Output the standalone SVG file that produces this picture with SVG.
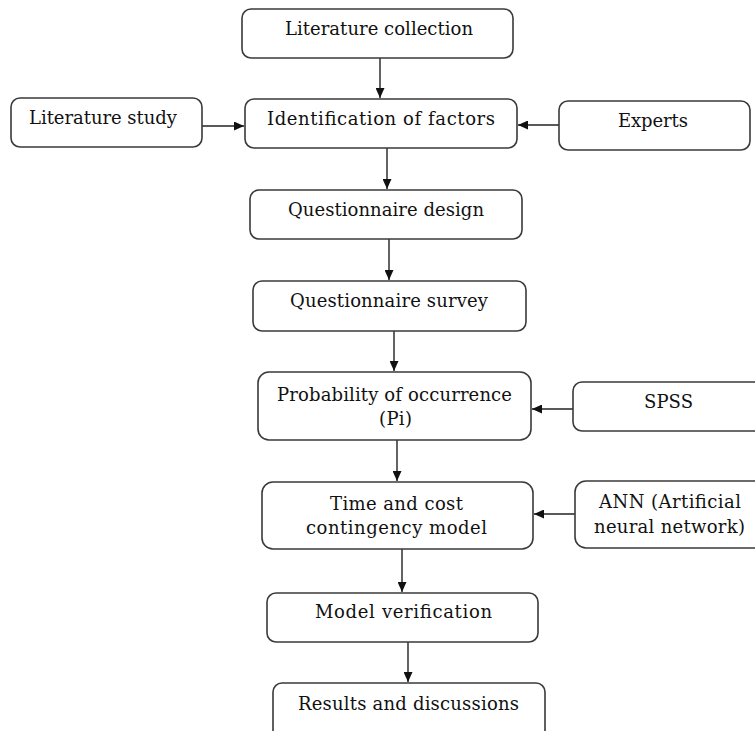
<svg xmlns="http://www.w3.org/2000/svg" width="755" height="731" viewBox="0 0 755 731">
<style>
.box{fill:#fff;stroke:#3a3a3a;stroke-width:1.6}
.t{font-family:"DejaVu Serif","Liberation Serif",serif;font-size:18px;fill:#111;text-anchor:middle}
.c{stroke:#222;stroke-width:1.4;fill:none;marker-end:url(#ah)}
</style>
<defs>
<marker id="ah" markerUnits="userSpaceOnUse" markerWidth="10" markerHeight="9" refX="10" refY="4.5" orient="auto">
<path d="M0,0 L10,4.5 L0,9 z" fill="#111"/>
</marker>
</defs>
<rect width="755" height="731" fill="#fff"/>
<g id="connectors">
<line class="c" x1="380" y1="58" x2="380" y2="98"/>
<line class="c" x1="202" y1="126" x2="244" y2="126"/>
<line class="c" x1="559" y1="125" x2="518" y2="125"/>
<line class="c" x1="387" y1="148" x2="387" y2="189"/>
<line class="c" x1="389" y1="239" x2="389" y2="280"/>
<line class="c" x1="394" y1="331" x2="394" y2="371"/>
<line class="c" x1="573" y1="409" x2="532" y2="409"/>
<line class="c" x1="397" y1="440" x2="397" y2="481"/>
<line class="c" x1="575" y1="514" x2="534" y2="514"/>
<line class="c" x1="402" y1="549" x2="402" y2="592"/>
<line class="c" x1="408" y1="642" x2="408" y2="682"/>
</g>
<g id="n-lit-collection">
<rect class="box" x="242" y="9" width="271" height="49" rx="9"/>
<text class="t" x="379" y="35" textLength="188">Literature collection</text>
</g>
<g id="n-lit-study">
<rect class="box" x="11" y="98" width="191" height="49" rx="9"/>
<text class="t" x="103" y="124" textLength="148">Literature study</text>
</g>
<g id="n-identification">
<rect class="box" x="245" y="99" width="272" height="49" rx="9"/>
<text class="t" x="381" y="125" textLength="228">Identification of factors</text>
</g>
<g id="n-experts">
<rect class="box" x="559" y="101" width="191" height="49" rx="9"/>
<text class="t" x="653" y="127" textLength="70">Experts</text>
</g>
<g id="n-q-design">
<rect class="box" x="250" y="190" width="272" height="49" rx="9"/>
<text class="t" x="386" y="216" textLength="196">Questionnaire design</text>
</g>
<g id="n-q-survey">
<rect class="box" x="253" y="281" width="273" height="50" rx="9"/>
<text class="t" x="389" y="307" textLength="198">Questionnaire survey</text>
</g>
<g id="n-probability">
<rect class="box" x="258" y="372" width="273" height="68" rx="11"/>
<text class="t" x="394.5" y="401" textLength="235">Probability of occurrence</text>
<text class="t" x="395.5" y="425" textLength="33">(Pi)</text>
</g>
<g id="n-spss">
<rect class="box" x="573" y="382" width="195" height="49" rx="9"/>
<text class="t" x="668.5" y="408" textLength="49">SPSS</text>
</g>
<g id="n-time-cost">
<rect class="box" x="262" y="482" width="271" height="67" rx="11"/>
<text class="t" x="396.5" y="510" textLength="133">Time and cost</text>
<text class="t" x="396.5" y="534" textLength="181">contingency model</text>
</g>
<g id="n-ann">
<rect class="box" x="575" y="481" width="195" height="67" rx="11"/>
<text class="t" x="670" y="508" textLength="142">ANN (Artificial</text>
<text class="t" x="669.5" y="533" textLength="151">neural network)</text>
</g>
<g id="n-model-verification">
<rect class="box" x="267" y="593" width="271" height="49" rx="9"/>
<text class="t" x="403.5" y="618" textLength="177">Model verification</text>
</g>
<g id="n-results">
<rect class="box" x="273" y="683" width="272" height="56" rx="9"/>
<text class="t" x="408.5" y="710" textLength="221">Results and discussions</text>
</g>
</svg>
